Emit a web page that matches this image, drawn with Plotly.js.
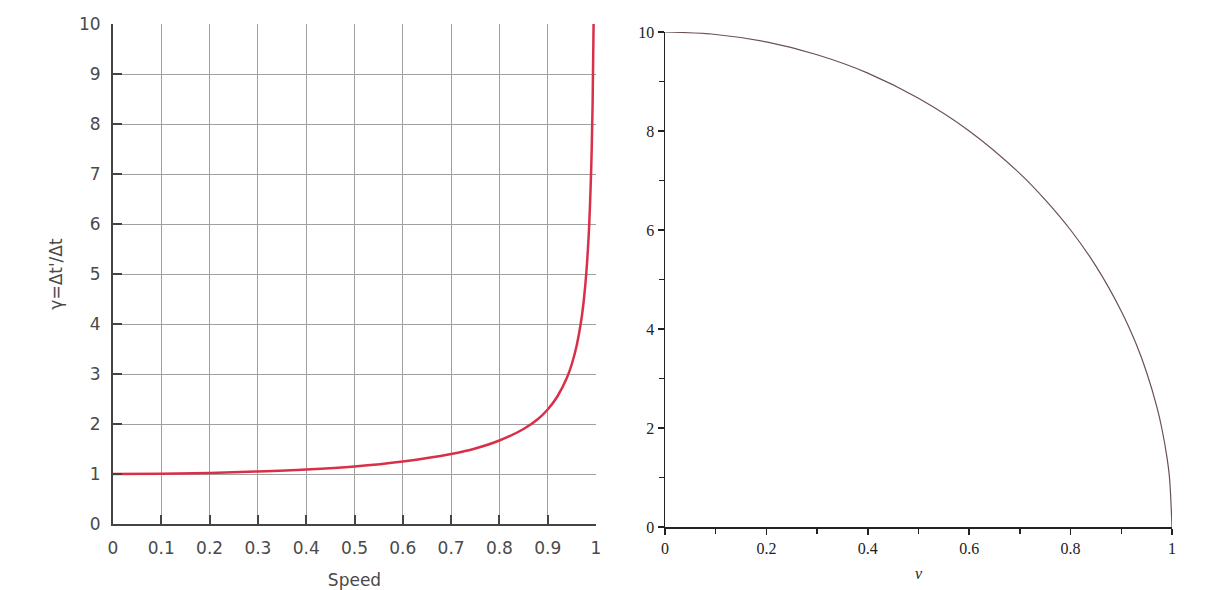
<!DOCTYPE html>
<html>
<head>
<meta charset="utf-8">
<script src="https://cdn.plot.ly/plotly-3.0.1.min.js"></script>
<style>
    html, body { margin: 0; padding: 0; background: #fff; }
    #plot { width: 1231px; height: 590px; }
</style>
</head>
<body>
<div id="plot"></div>
<script>
// left chart: time dilation factor against speed
let speed = [0, 0.1, 0.2, 0.3, 0.4, 0.5, 0.6, 0.7, 0.75, 0.8, 0.85, 0.88, 0.9, 0.92,
    0.94, 0.95, 0.96, 0.97, 0.975, 0.98, 0.985, 0.99, 0.993, 0.995];
let gamma = [1, 1.005, 1.02, 1.05, 1.09, 1.15, 1.25, 1.4, 1.51, 1.67, 1.9, 2.1, 2.29, 2.55,
    2.93, 3.2, 3.57, 4.11, 4.5, 5.03, 5.8, 7.09, 8.4, 10];

// right chart: quarter circle against v
let vel = [0, 0.1, 0.2, 0.3, 0.4, 0.5, 0.6, 0.7, 0.75, 0.8, 0.85, 0.9, 0.93, 0.95,
    0.97, 0.98, 0.99, 0.995, 1];
let height = [10, 9.95, 9.8, 9.54, 9.17, 8.66, 8.0, 7.14, 6.61, 6.0, 5.27, 4.36, 3.68, 3.12,
    2.43, 1.99, 1.41, 1.0, 0];

let leftTicks = ['0', '0.1', '0.2', '0.3', '0.4', '0.5', '0.6', '0.7', '0.8', '0.9', '1'];
let rightTicks = ['0', '0.2', '0.4', '0.6', '0.8', '1'];

let W = 1231, H = 590;
function xd(a, b) { return [a / W, b / W]; }
function yd(top, bottom) { return [(H - bottom) / H, (H - top) / H]; }

let data = [
    {
        x: speed,
        y: gamma,
        type: 'scatter',
        mode: 'lines',
        line: {color: '#d9304a', width: 2.5, shape: 'spline'},
        xaxis: 'x',
        yaxis: 'y',
        hoverinfo: 'skip'
    },
    {
        x: vel,
        y: height,
        type: 'scatter',
        mode: 'lines',
        line: {color: '#6b5052', width: 1.2, shape: 'spline'},
        xaxis: 'x2',
        yaxis: 'y2',
        hoverinfo: 'skip'
    }
];

let sansFont = {family: 'DejaVu Sans, sans-serif', size: 17, color: '#4a4a4a'};
let serifFont = {family: 'Liberation Serif, serif', size: 16, color: '#222'};

let layout = {
    width: W,
    height: H,
    margin: {l: 0, r: 0, t: 0, b: 0},
    paper_bgcolor: '#fff',
    plot_bgcolor: '#fff',
    showlegend: false,
    xaxis: {
        domain: xd(113, 596),
        range: [0, 1],
        tickvals: leftTicks.map(Number),
        ticktext: leftTicks,
        showgrid: true,
        gridcolor: '#a0a0a0',
        gridwidth: 1,
        zeroline: false,
        showline: true,
        linecolor: '#444',
        linewidth: 2,
        ticks: 'inside',
        ticklen: 9,
        tickcolor: '#444',
        tickwidth: 2,
        tickfont: sansFont,
        ticklabelstandoff: 8,
        automargin: false,
        title: {text: 'Speed', font: sansFont, standoff: 18},
        anchor: 'y',
        fixedrange: true
    },
    yaxis: {
        domain: yd(24, 524),
        range: [0, 10],
        dtick: 1,
        tick0: 0,
        showgrid: true,
        gridcolor: '#a0a0a0',
        gridwidth: 1,
        zeroline: false,
        showline: true,
        linecolor: '#444',
        linewidth: 2,
        ticks: 'inside',
        ticklen: 9,
        tickcolor: '#444',
        tickwidth: 2,
        tickfont: sansFont,
        ticklabelstandoff: 7,
        automargin: false,
        title: {text: "γ=Δt'/Δt", font: sansFont, standoff: 12},
        anchor: 'x',
        fixedrange: true
    },
    xaxis2: {
        domain: xd(665, 1172),
        range: [0, 1],
        tickvals: rightTicks.map(Number),
        ticktext: rightTicks,
        showgrid: false,
        zeroline: false,
        showline: true,
        linecolor: '#222',
        linewidth: 1.5,
        ticks: 'outside',
        ticklen: 6,
        tickcolor: '#222',
        tickwidth: 1.5,
        minor: {dtick: 0.1, ticks: 'outside', ticklen: 5, tickcolor: '#222', tickwidth: 1.2, showgrid: false},
        tickfont: serifFont,
        automargin: false,
        title: {text: '<i>v</i>', font: {family: 'Liberation Serif, serif', size: 16, color: '#222'}, standoff: 12},
        anchor: 'y2',
        fixedrange: true
    },
    yaxis2: {
        domain: yd(32, 527),
        range: [0, 10],
        dtick: 2,
        tick0: 0,
        showgrid: false,
        zeroline: false,
        showline: true,
        linecolor: '#222',
        linewidth: 1.5,
        ticks: 'outside',
        ticklen: 6,
        tickcolor: '#222',
        tickwidth: 1.5,
        minor: {dtick: 1, ticks: 'outside', ticklen: 5, tickcolor: '#222', tickwidth: 1.2, showgrid: false},
        tickfont: serifFont,
        automargin: false,
        anchor: 'x2',
        fixedrange: true
    }
};

Plotly.newPlot('plot', data, layout, {displayModeBar: false, staticPlot: true});
</script>
</body>
</html>
